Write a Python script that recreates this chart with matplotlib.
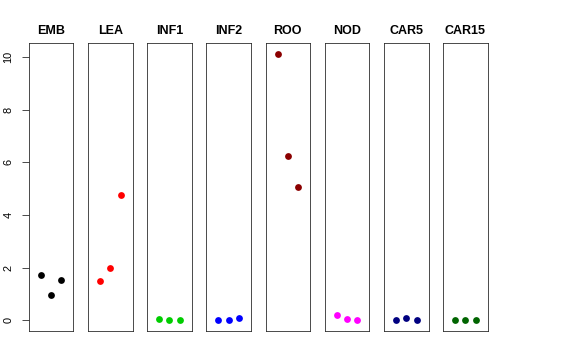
import matplotlib
matplotlib.use("Agg")
import matplotlib.pyplot as plt

categories = ["EMB", "LEA", "INF1", "INF2", "ROO", "NOD", "CAR5", "CAR15"]
colors = ["#000000", "#FF0000", "#00CD00", "#0000FF", "#8B0000", "#FF00FF", "#000080", "#006400"]
values = {
    "EMB": [1.71, 0.96, 1.55],
    "LEA": [1.48, 2.00, 4.76],
    "INF1": [0.04, 0.0, 0.0],
    "INF2": [0.0, 0.02, 0.10],
    "ROO": [10.11, 6.24, 5.05],
    "NOD": [0.20, 0.06, 0.0],
    "CAR5": [0.0, 0.10, 0.01],
    "CAR15": [0.0, 0.03, 0.01],
}
replicates = [1, 2, 3]
yticks = [0, 2, 4, 6, 8, 10]

W, H = 576, 360
fig = plt.figure(figsize=(W / 72, H / 72), dpi=72)

allv = [v for k in categories for v in values[k]]
ymin, ymax = min(allv), max(allv)
pad = 0.04 * (ymax - ymin)
xpad = 0.04 * 4

left0, step, width = 28.7, 59.2, 44.7
top, bottom = 43.3, 331.0
for i, (cat, col) in enumerate(zip(categories, colors)):
    l = left0 + i * step
    ax = fig.add_axes([l / W, 1 - bottom / H, width / W, (bottom - top) / H])
    ax.plot(replicates, values[cat], "o", color=col, markersize=6.8, markeredgewidth=0)
    ax.set_xlim(0 - xpad, 4 + xpad)
    ax.set_ylim(ymin - pad, ymax + pad)
    ax.set_xticks([])
    for s in ax.spines.values():
        s.set_linewidth(0.8)
        s.set_color("#222222")
    ax.set_title(cat, fontsize=12.5, fontweight="bold", pad=9, family="Liberation Sans")
    if i == 0:
        ax.set_yticks(yticks)
        ax.set_yticklabels([str(t) for t in yticks], rotation=90, va="center",
                           fontsize=11, family="Liberation Sans")
        ax.tick_params(axis="y", length=7.5, width=0.8, pad=8, color="#222222")
    else:
        ax.set_yticks([])

fig.savefig("out.png", dpi=72)
